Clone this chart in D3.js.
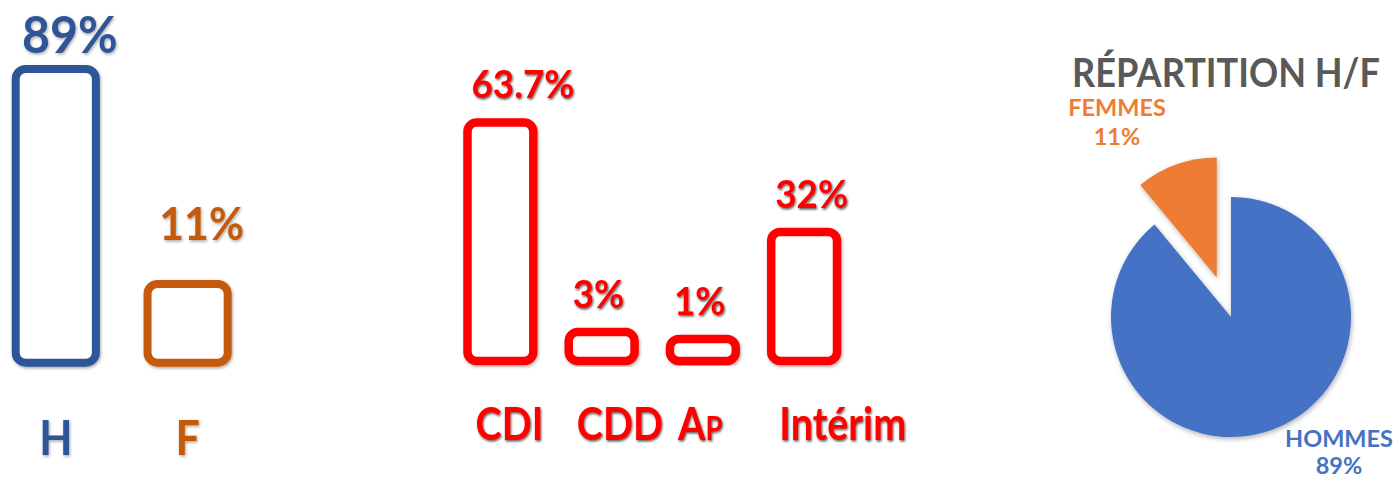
<!DOCTYPE html>
<html>
<head>
<meta charset="utf-8">
<script src="https://cdn.jsdelivr.net/npm/d3@7"></script>
<style>
  html, body { margin: 0; padding: 0; background: #fff; }
  svg { display: block; font-family: Lato, "Open Sans", sans-serif; font-weight: 700; }
</style>
</head>
<body>
<svg id="chart" width="1396" height="481"></svg>
<script>
// Gender split (H / F)
const genderCats = ["H", "F"];
const genderValues = [89, 11];
const genderLabels = ["89%", "11%"];

// Contract types
const contractCats = ["CDI", "CDD", "Ap", "Intérim"];
const contractValues = [63.7, 3, 1, 32];
const contractLabels = ["63.7%", "3%", "1%", "32%"];

// Pie: répartition H/F
const pieNames = ["HOMMES", "FEMMES"];
const pieValues = [89, 11];
const pieLabels = ["89%", "11%"];
const pieTitle = "RÉPARTITION H/F";

const svg = d3.select("#chart");
const defs = svg.append("defs");

function shadow(id, dx, dy, sd, op) {
  defs.append("filter").attr("id", id)
    .attr("x", "-20%").attr("y", "-20%").attr("width", "140%").attr("height", "140%")
    .append("feDropShadow")
    .attr("dx", dx).attr("dy", dy).attr("stdDeviation", sd)
    .attr("flood-color", "#000").attr("flood-opacity", op);
}
shadow("soft", 1, 1.5, 1.5, 0.35);
shadow("dark", 1, 1.5, 1.2, 0.65);
shadow("pieShadow", 1, 2, 2.5, 0.3);

// Narrow a text horizontally around its anchor point (Lato runs wider than the original face)
function condense(sel, k) {
  sel.each(function () {
    const t = d3.select(this);
    const x = +t.attr("x");
    t.attr("transform", `translate(${x},0) scale(${k},1) translate(${-x},0)`);
  });
}

// ---------- Left panel: H / F bars ----------
const gBase = 362.7;
const gColors = ["#2F5597", "#C55A11"];
const gx = d3.scaleBand().domain(genderCats).range([15.7, 227.7]).paddingInner(0.392);
const gy = d3.scaleLinear().domain([0, 89]).range([gBase - 48.4, 69]);
const gLabelGap = [16, 44];
const gLabelSize = [52, 46];

const gLeft = svg.append("g");
gLeft.selectAll("rect").data(genderValues).join("rect")
  .attr("x", (d, i) => gx(genderCats[i]))
  .attr("y", d => gy(d))
  .attr("width", gx.bandwidth())
  .attr("height", d => gBase - gy(d))
  .attr("rx", 10)
  .attr("fill", "#fff")
  .attr("stroke", (d, i) => gColors[i])
  .attr("stroke-width", 8)
  .attr("filter", "url(#soft)");

gLeft.selectAll("text.val").data(genderLabels).join("text")
  .attr("class", "val")
  .attr("x", (d, i) => gx(genderCats[i]) + gx.bandwidth() / 2 + 14)
  .attr("y", (d, i) => gy(genderValues[i]) - gLabelGap[i])
  .attr("text-anchor", "middle")
  .attr("font-size", (d, i) => gLabelSize[i])
  .attr("fill", (d, i) => gColors[i])
  .attr("filter", "url(#soft)")
  .text(d => d)
  .call(condense, 0.93);

gLeft.selectAll("text.cat").data(genderCats).join("text")
  .attr("class", "cat")
  .attr("x", d => gx(d) + gx.bandwidth() / 2)
  .attr("y", 455)
  .attr("text-anchor", "middle")
  .attr("font-size", 48)
  .attr("fill", (d, i) => gColors[i])
  .attr("filter", "url(#soft)")
  .text(d => d)
  .call(condense, 0.9);

// ---------- Middle panel: contract types ----------
const cBase = 361;
const cRed = "#FF0000";
const cx = d3.scaleBand().domain(contractCats).range([467.5, 837]).paddingInner(0.35);
const cy = d3.scaleLinear().domain([0, 63.7]).range([cBase - 18.6, 122.5]);

const gMid = svg.append("g");
gMid.selectAll("rect").data(contractValues).join("rect")
  .attr("x", (d, i) => cx(contractCats[i]))
  .attr("y", d => cy(d))
  .attr("width", cx.bandwidth())
  .attr("height", d => cBase - cy(d))
  .attr("rx", 9)
  .attr("fill", "#fff")
  .attr("stroke", cRed)
  .attr("stroke-width", 8.5)
  .attr("filter", "url(#soft)");

gMid.selectAll("text.val").data(contractLabels).join("text")
  .attr("class", "val")
  .attr("x", (d, i) => cx(contractCats[i]) + 4)
  .attr("y", (d, i) => cy(contractValues[i]) - 24)
  .attr("font-size", 38)
  .attr("fill", cRed)
  .attr("filter", "url(#dark)")
  .text(d => d)
  .call(condense, 0.97);

gMid.selectAll("text.cat").data(contractCats).join("text")
  .attr("class", "cat")
  .attr("x", d => cx(d) + 8)
  .attr("y", 440)
  .attr("font-size", 46)
  .attr("fill", cRed)
  .attr("filter", "url(#dark)")
  .style("font-variant", d => d === "Ap" ? "small-caps" : null)
  .text(d => d)
  .call(condense, 0.86);

// ---------- Right panel: pie ----------
const pcx = 1231, pcy = 317, pr = 120, explode = 42;
const pieColors = ["#4472C4", "#ED7D31"];
const pie = d3.pie().sort(null)(pieValues);
const arc = d3.arc().innerRadius(0).outerRadius(pr);

const gPie = svg.append("g").attr("transform", `translate(${pcx},${pcy})`);
gPie.selectAll("path").data(pie).join("path")
  .attr("d", arc)
  .attr("fill", (d, i) => pieColors[i])
  .attr("filter", "url(#pieShadow)")
  .attr("transform", (d, i) => {
    if (i !== 1) return null;
    const mid = (d.startAngle + d.endAngle) / 2;
    return `translate(${Math.sin(mid) * explode},${-Math.cos(mid) * explode})`;
  });

const title = svg.append("text")
  .attr("x", 1072).attr("y", 86.7)
  .attr("font-size", 40)
  .attr("fill", "#595959")
  .text(pieTitle);
// fit the title to its slot above the pie
const titleW = title.node().getComputedTextLength();
title.call(condense, Math.min(1, 308 / titleW));

// data labels: HOMMES bottom-right, FEMMES upper-left
const pieLabelPos = [[108, 130], [-114, -201]];
const pieLabelStep = [27, 29];
pieNames.forEach((name, i) => {
  const t = gPie.append("text")
    .attr("text-anchor", "middle")
    .attr("font-size", 23.5)
    .attr("fill", pieColors[i])
    .attr("x", pieLabelPos[i][0]).attr("y", pieLabelPos[i][1]);
  t.append("tspan").attr("x", pieLabelPos[i][0]).text(name);
  t.append("tspan").attr("x", pieLabelPos[i][0]).attr("dy", pieLabelStep[i]).text(pieLabels[i]);
});
</script>
</body>
</html>
